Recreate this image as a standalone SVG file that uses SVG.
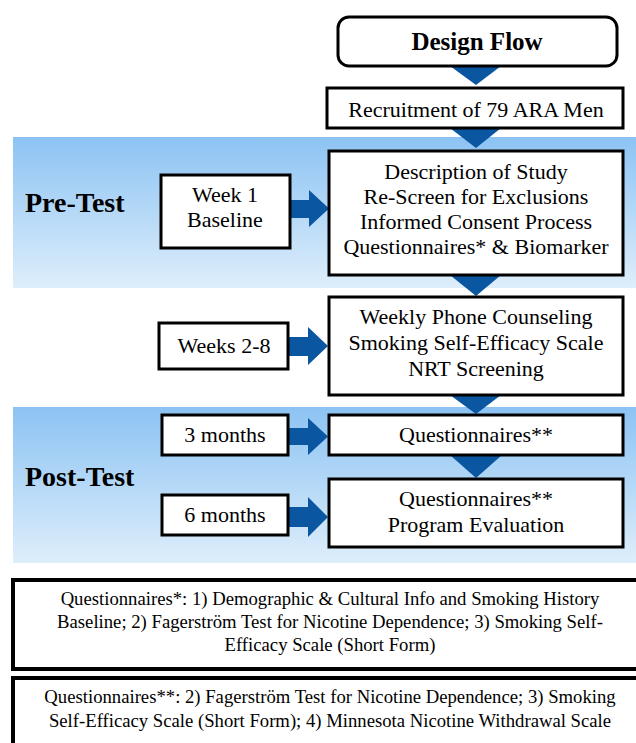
<svg xmlns="http://www.w3.org/2000/svg" width="636" height="743" viewBox="0 0 636 743">
<defs>
<linearGradient id="band" x1="0" y1="0" x2="0" y2="1">
<stop offset="0" stop-color="#8cc3f3"/>
<stop offset="1" stop-color="#deeefb"/>
</linearGradient>
</defs>
<style>
.box{fill:#fff;stroke:#000;stroke-width:3}
.fbox{fill:#fff;stroke:#000;stroke-width:4}
.t{font-family:"Liberation Serif","Times New Roman",serif;font-size:22px;fill:#000;text-anchor:middle}
.f{font-family:"Liberation Serif","Times New Roman",serif;font-size:18.7px;fill:#000;text-anchor:middle}
.b{font-family:"Liberation Serif","Times New Roman",serif;font-weight:bold;fill:#000}
.ar{fill:#0b56a0}
</style>
<rect x="13" y="137" width="623" height="151" fill="url(#band)"/>
<rect x="13" y="407" width="623" height="156" fill="url(#band)"/>
<text class="b" x="25" y="212" font-size="28">Pre-Test</text>
<text class="b" x="25" y="486" font-size="28">Post-Test</text>
<g id="connectors">
<polygon class="ar" points="450,66 501,66 476,85"/>
<polygon class="ar" points="450,128 501,128 476,148"/>
<polygon class="ar" points="450,275 501,275 476,296"/>
<polygon class="ar" points="450,395 501,395 476,414"/>
<polygon class="ar" points="450,455 502,455 476,478"/>
<polygon class="ar" points="290,200 309,200 309,190 329,208.5 309,227 309,218 290,218"/>
<polygon class="ar" points="288,337 308,337 308,327 328,346 308,365 308,356 288,356"/>
<polygon class="ar" points="288,428 308,428 308,418 328,436.5 308,455 308,445 288,445"/>
<polygon class="ar" points="288,507 308,507 308,497 328,517 308,537 308,527 288,527"/>
</g>
<g id="design-flow">
<rect x="338" y="17" width="279" height="49" rx="11" class="box"/>
<text class="b" x="477" y="50" font-size="25" text-anchor="middle">Design Flow</text>
</g>
<g id="recruitment">
<rect x="327" y="88" width="296" height="40" class="box"/>
<text class="t" x="476" y="117">Recruitment of 79 ARA Men</text>
</g>
<g id="week1">
<rect x="161" y="175" width="129" height="73" class="box"/>
<text class="t" x="225" y="202">Week 1</text>
<text class="t" x="225" y="227">Baseline</text>
</g>
<g id="pretest-box">
<rect x="329" y="151" width="294" height="124" class="box"/>
<text class="t" x="476" y="179">Description of Study</text>
<text class="t" x="476" y="204">Re-Screen for Exclusions</text>
<text class="t" x="476" y="229">Informed Consent Process</text>
<text class="t" x="476" y="254">Questionnaires* &amp; Biomarker</text>
</g>
<g id="weeks2-8">
<rect x="159" y="323" width="129" height="46" class="box"/>
<text class="t" x="224" y="353">Weeks 2-8</text>
</g>
<g id="counseling-box">
<rect x="329" y="297" width="294" height="98" class="box"/>
<text class="t" x="476" y="324">Weekly Phone Counseling</text>
<text class="t" x="476" y="350">Smoking Self-Efficacy Scale</text>
<text class="t" x="476" y="376">NRT Screening</text>
</g>
<g id="month3">
<rect x="162" y="415" width="126" height="40" class="box"/>
<text class="t" x="225" y="442">3 months</text>
</g>
<g id="q3-box">
<rect x="329" y="415" width="294" height="40" class="box"/>
<text class="t" x="476" y="442">Questionnaires**</text>
</g>
<g id="month6">
<rect x="162" y="495" width="126" height="40" class="box"/>
<text class="t" x="225" y="522">6 months</text>
</g>
<g id="q6-box">
<rect x="329" y="479" width="294" height="68" class="box"/>
<text class="t" x="476" y="506">Questionnaires**</text>
<text class="t" x="476" y="532">Program Evaluation</text>
</g>
<g id="footnote1">
<rect x="13" y="580" width="640" height="89" class="fbox"/>
<text class="f" x="330" y="605">Questionnaires*: 1) Demographic &amp; Cultural Info and Smoking History</text>
<text class="f" x="330" y="628">Baseline; 2) Fagerström Test for Nicotine Dependence; 3) Smoking Self-</text>
<text class="f" x="330" y="651">Efficacy Scale (Short Form)</text>
</g>
<g id="footnote2">
<rect x="13" y="678" width="640" height="80" class="fbox"/>
<text class="f" x="330" y="703">Questionnaires**: 2) Fagerström Test for Nicotine Dependence; 3) Smoking</text>
<text class="f" x="330" y="727">Self-Efficacy Scale (Short Form); 4) Minnesota Nicotine Withdrawal Scale</text>
</g>
</svg>
